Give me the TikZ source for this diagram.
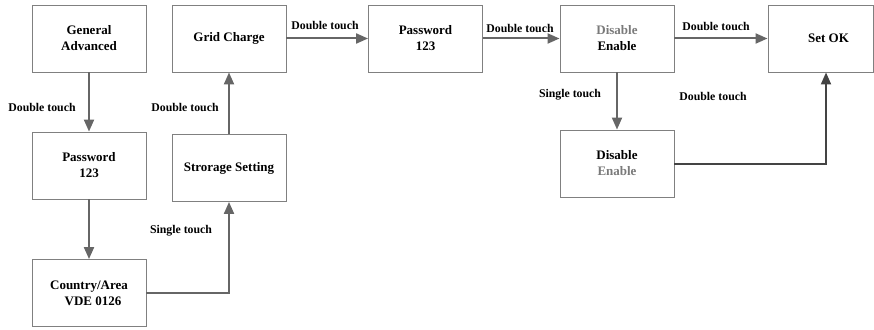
\documentclass[tikz,border=0pt]{standalone}
\usepackage{fontspec}
\setmainfont{Liberation Serif}
\usetikzlibrary{arrows.meta}
\definecolor{boxline}{HTML}{808080}
\definecolor{arr}{HTML}{666666}
\definecolor{arrdark}{HTML}{444444}
\definecolor{dimtxt}{HTML}{7A7A7A}
\begin{document}
\begin{tikzpicture}[x=1pt,y=-1pt,
  box/.style={draw=boxline,line width=0.9pt,minimum width=114pt,minimum height=67pt,inner sep=0pt,align=center,
     font=\fontsize{13}{16}\selectfont\bfseries},
  lbl/.style={font=\fontsize{11.8}{14}\selectfont\bfseries,inner sep=0pt},
  conn/.style={draw=arr,line width=2pt,-{Triangle[length=12pt,width=10pt]}},
  conndark/.style={draw=arrdark,line width=2pt,-{Triangle[length=12pt,width=10pt]}}]
\useasboundingbox (0,0) rectangle (874,329);
\node[box] (ga) at (89,38.5) {General\\Advanced};
\node[box] (pw1) at (89,165.5) {Password\\123};
\node[box] (ca) at (89,293) {Country/Area\\\hspace*{8pt}VDE 0126};
\node[box] (ss) at (229,168) {Strorage Setting};
\node[box] (gc) at (229,38.5) {Grid Charge};
\node[box] (pw2) at (425.5,38.5) {Password\\123};
\node[box] (de1) at (617,38.5) {\textcolor{dimtxt}{Disable}\\Enable};
\node[box,minimum width=105pt] (ok) at (820.5,38.5) {\hspace*{16pt}Set OK};
\node[box] (de2) at (617,163.5) {Disable\\\textcolor{dimtxt}{Enable}};
\coordinate (c1) at (229,293);
\coordinate (c2) at (826,163.5);
\draw[conn] (ga) -- (pw1);
\draw[conn] (pw1) -- (ca);
\draw[conn] (ca.east) -- (c1) -- (ss.south);
\draw[conn] (ss) -- (gc);
\draw[conn] (gc) -- (pw2);
\draw[conn] (pw2) -- (de1);
\draw[conn] (de1) -- (ok);
\draw[conn] (de1) -- (de2);
\draw[conndark] (de2.east) -- (c2) -- (c2 |- ok.south);
\node[lbl] (l1) at (42,107) {Double touch};
\node[lbl] (l2) at (185,107) {Double touch};
\node[lbl] (l3) at (181,231) {Single touch};
\node[lbl] (l4) at (325,25) {Double touch};
\node[lbl] (l5) at (520,28) {Double touch};
\node[lbl] (l6) at (716,26) {Double touch};
\node[lbl] (l7) at (570,95) {Single touch};
\node[lbl] (l8) at (713,96) {Double touch};
\end{tikzpicture}
\end{document}
